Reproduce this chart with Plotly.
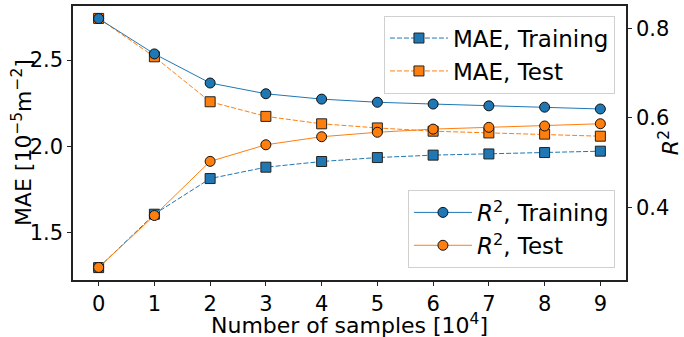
import plotly.graph_objects as go

samples = [0, 1, 2, 3, 4, 5, 6, 7, 8, 9]
mae_train = [1.295, 1.605, 1.812, 1.878, 1.911, 1.934, 1.948, 1.955, 1.963, 1.971]
mae_test = [2.742, 2.519, 2.258, 2.173, 2.130, 2.106, 2.087, 2.077, 2.070, 2.058]
r2_train = [0.822, 0.743, 0.678, 0.654, 0.642, 0.635, 0.631, 0.627, 0.624, 0.620]
r2_test = [0.266, 0.382, 0.503, 0.540, 0.558, 0.568, 0.575, 0.579, 0.582, 0.587]

BLUE = "#1f77b4"
ORANGE = "#ff7f0e"
FONT = "DejaVu Sans"
FS = 22

fig = go.Figure()

fig.add_trace(go.Scatter(
    x=samples, y=mae_train, mode="lines+markers", name="MAE, Training",
    line=dict(color=BLUE, width=1, dash="5px,2px"),
    marker=dict(symbol="square", size=10, color=BLUE, line=dict(color="#222", width=1)),
    legend="legend", yaxis="y"))
fig.add_trace(go.Scatter(
    x=samples, y=mae_test, mode="lines+markers", name="MAE, Test",
    line=dict(color=ORANGE, width=1, dash="5px,2px"),
    marker=dict(symbol="square", size=10, color=ORANGE, line=dict(color="#222", width=1)),
    legend="legend", yaxis="y"))
fig.add_trace(go.Scatter(
    x=samples, y=r2_train, mode="lines+markers", name="<i>R</i><sup>2</sup>, Training",
    line=dict(color=BLUE, width=1),
    marker=dict(symbol="circle", size=10, color=BLUE, line=dict(color="#111", width=1)),
    legend="legend2", yaxis="y2"))
fig.add_trace(go.Scatter(
    x=samples, y=r2_test, mode="lines+markers", name="<i>R</i><sup>2</sup>, Test",
    line=dict(color=ORANGE, width=1),
    marker=dict(symbol="circle", size=10, color=ORANGE, line=dict(color="#111", width=1)),
    legend="legend2", yaxis="y2"))

axis_common = dict(
    showline=True, linecolor="#222", linewidth=1.5, ticks="outside", ticklen=4,
    tickwidth=1.2, tickcolor="#222", showgrid=False, zeroline=False, automargin=False,
    tickfont=dict(family=FONT, size=21, color="black"),
)

legend_common = dict(
    font=dict(family=FONT, size=23, color="black"),
    bgcolor="rgba(255,255,255,0.85)", bordercolor="#d0d0d0", borderwidth=1,
    xanchor="right", itemwidth=58, tracegroupgap=0,
)

fig.update_layout(
    width=684, height=337,
    margin=dict(l=73, r=58, t=6, b=57),
    paper_bgcolor="white", plot_bgcolor="white",
    font=dict(family=FONT, size=FS, color="black"),
    xaxis=dict(
        range=[-0.46, 9.46], tickmode="array", tickvals=samples,
        ticktext=[str(s) for s in samples], mirror=True,
        **axis_common),
    yaxis=dict(
        range=[1.223, 2.814], tickmode="array", tickvals=[1.5, 2.0, 2.5],
        ticktext=["1.5", "2.0", "2.5"], mirror=True,
        **axis_common),
    yaxis2=dict(
        range=[0.238, 0.850], tickmode="array", tickvals=[0.4, 0.6, 0.8],
        ticktext=["0.4", "0.6", "0.8"], overlaying="y", side="right",
        **axis_common),
    legend=dict(x=0.98, y=0.965, yanchor="top", **legend_common),
    legend2=dict(x=0.98, y=0.044, yanchor="bottom", **legend_common),
    showlegend=True,
    annotations=[
        dict(text="Number of samples [10<sup>4</sup>]", xref="paper", yref="paper",
             x=0.5, y=-0.162, xanchor="center", yanchor="middle", showarrow=False,
             font=dict(family=FONT, size=FS, color="black")),
        dict(text="MAE [10<sup>−5</sup>m<sup>−2</sup>]", xref="paper", yref="paper",
             x=-0.092, y=0.5, xanchor="center", yanchor="middle", showarrow=False,
             textangle=-90, font=dict(family=FONT, size=FS, color="black")),
        dict(text="<i>R</i><sup>2</sup>", xref="paper", yref="paper",
             x=1.078, y=0.5, xanchor="center", yanchor="middle", showarrow=False,
             textangle=-90, font=dict(family=FONT, size=FS, color="black")),
    ],
)

fig.write_html("out.html", config={"displayModeBar": False},
               post_script="document.body.style.margin='0px';")
